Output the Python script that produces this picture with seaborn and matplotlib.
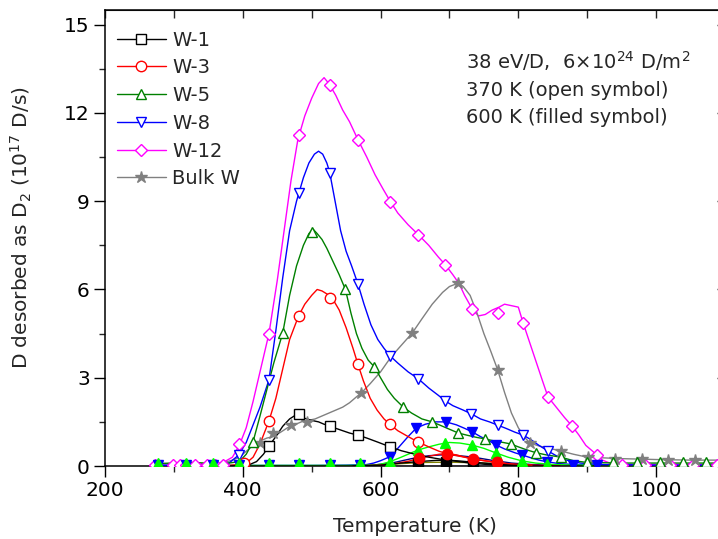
import matplotlib
matplotlib.use("Agg")
import matplotlib.pyplot as plt
import seaborn as sns
from matplotlib.lines import Line2D
from matplotlib.ticker import MultipleLocator

sns.set_style("ticks")
plt.rcParams["font.family"] = ["DejaVu Sans"]
plt.rcParams["mathtext.fontset"] = "dejavusans"

# ---- TDS spectra, 370 K exposure (open symbols) ----
w12_T = [268, 290, 310, 330, 350, 370, 385, 395, 405, 415, 425, 438, 450, 460, 470, 480, 490, 500,
         510, 518, 525, 535, 545, 555, 567, 580, 592, 604, 614, 625, 640, 655, 670, 684, 694, 705,
         714, 722, 733, 742, 752, 762, 772, 780, 790, 800, 807, 815, 825, 835, 843, 855, 867, 878,
         888, 898, 908, 914, 922, 935, 950, 980, 1020, 1060, 1100]
w12_y = [0.05, 0.08, 0.1, 0.07, 0.08, 0.1, 0.3, 0.7, 1.3, 2.2, 3.2, 4.5, 6.3, 8.0, 9.7, 11.1, 11.9, 12.5,
         13.0, 13.2, 13.0, 12.6, 12.1, 11.7, 11.1, 10.5, 9.9, 9.4, 9.0, 8.6, 8.2, 7.86, 7.5, 7.1, 6.84, 6.5,
         6.2, 5.8, 5.34, 5.1, 5.15, 5.3, 5.4, 5.5, 5.45, 5.4, 4.86, 4.3, 3.6, 2.9, 2.35, 2.0, 1.65, 1.36,
         1.05, 0.7, 0.5, 0.37, 0.2, 0.08, 0.05, 0.05, 0.05, 0.05, 0.05]
w12_mT = [272, 299, 309, 318, 330, 348, 360, 371, 394, 438, 481, 526, 567, 614, 655, 694, 733, 770,
          807, 843, 878, 914, 950, 984, 1020, 1053, 1088]
w12_my = [0.03, 0.03, 0.03, 0.03, 0.05, 0.03, 0.03, 0.05, 0.75, 4.5, 11.26, 12.96, 11.09, 8.98, 7.86,
          6.84, 5.34, 5.2, 4.86, 2.35, 1.36, 0.37, 0.03, 0.03, 0.03, 0.03, 0.03]

w8_T = [268, 300, 330, 360, 380, 394, 405, 415, 425, 438, 448, 458, 468, 478, 488, 496, 504, 510, 516,
        522, 526, 534, 542, 550, 558, 567, 576, 586, 596, 605, 614, 625, 640, 655, 670, 684, 694, 705,
        720, 732, 745, 758, 770, 782, 795, 807, 818, 830, 843, 855, 870, 890, 920, 1000, 1100]
w8_y = [0.02, 0.03, 0.02, 0.03, 0.1, 0.37, 0.8, 1.4, 2.0, 2.93, 4.6, 6.4, 8.0, 9.0, 9.8, 10.3, 10.6,
        10.7, 10.6, 10.3, 10.0, 9.0, 8.0, 7.3, 6.8, 6.2, 5.5, 4.8, 4.3, 4.0, 3.74, 3.5, 3.2, 2.96, 2.65,
        2.4, 2.21, 2.05, 1.9, 1.77, 1.6, 1.5, 1.39, 1.28, 1.15, 1.05, 0.9, 0.7, 0.51, 0.35, 0.2, 0.1,
        0.05, 0.03, 0.03]
w8_mT = [394, 438, 481, 526, 567, 614, 655, 694, 732, 770, 807, 843]
w8_my = [0.37, 2.93, 9.29, 9.97, 6.2, 3.74, 2.96, 2.21, 1.77, 1.39, 1.05, 0.51]

w5_T = [268, 300, 330, 360, 380, 395, 405, 415, 425, 435, 445, 458, 468, 478, 488, 496, 502, 508, 515,
        522, 530, 540, 549, 557, 565, 573, 582, 591, 600, 610, 620, 633, 645, 660, 675, 690, 700, 713,
        725, 740, 752, 765, 778, 789, 800, 812, 826, 840, 862, 880, 900, 950, 1000, 1100]
w5_y = [0.08, 0.1, 0.12, 0.08, 0.1, 0.15, 0.4, 0.83, 1.7, 2.6, 3.5, 4.52, 5.8, 6.8, 7.5, 7.9, 8.05,
        7.9, 7.7, 7.4, 7.0, 6.5, 6.0, 5.2, 4.5, 4.0, 3.6, 3.37, 3.0, 2.6, 2.3, 2.0, 1.8, 1.6, 1.5, 1.35,
        1.25, 1.12, 1.05, 0.97, 0.92, 0.85, 0.8, 0.75, 0.65, 0.55, 0.45, 0.38, 0.3, 0.18, 0.12, 0.1,
        0.1, 0.1]
w5_mT = [415, 458, 501, 549, 591, 633, 675, 713, 752, 789, 826, 862, 900, 938, 972, 1005, 1039, 1073]
w5_my = [0.83, 4.52, 7.96, 6.0, 3.37, 2.0, 1.5, 1.12, 0.92, 0.75, 0.45, 0.3, 0.14, 0.12, 0.12, 0.12,
         0.12, 0.12]

w3_T = [380, 395, 405, 415, 425, 438, 448, 458, 468, 481, 490, 500, 508, 515, 522, 530, 540, 550, 560,
        567, 575, 585, 595, 605, 613, 625, 640, 654, 670, 685, 700, 715, 730, 745, 760, 775, 790, 820]
w3_y = [0.02, 0.05, 0.1, 0.3, 0.75, 1.53, 2.3, 3.3, 4.3, 5.1, 5.5, 5.8, 6.0, 5.95, 5.85, 5.7, 5.3, 4.7,
        4.0, 3.47, 2.9, 2.3, 1.9, 1.6, 1.43, 1.2, 1.0, 0.82, 0.65, 0.5, 0.4, 0.33, 0.27, 0.2, 0.15, 0.1,
        0.06, 0.03]
w3_mT = [402, 438, 481, 526, 567, 613, 654]
w3_my = [0.1, 1.53, 5.1, 5.7, 3.47, 1.43, 0.82]

w1_T = [380, 400, 410, 420, 430, 438, 448, 458, 468, 476, 481, 490, 500, 510, 518, 526, 535, 545, 555,
        567, 580, 595, 614, 630, 650, 670, 690, 710, 730, 750, 770, 800]
w1_y = [0.0, 0.02, 0.05, 0.15, 0.4, 0.68, 1.0, 1.35, 1.6, 1.72, 1.77, 1.62, 1.55, 1.5, 1.42, 1.37,
        1.28, 1.2, 1.12, 1.05, 0.95, 0.82, 0.65, 0.52, 0.4, 0.3, 0.22, 0.16, 0.1, 0.06, 0.03, 0.02]
w1_mT = [438, 481, 526, 567, 614]
w1_my = [0.68, 1.77, 1.37, 1.05, 0.65]

bulk_T = [370, 385, 395, 405, 415, 425, 435, 445, 455, 465, 475, 485, 495, 505, 515, 525, 535, 545,
          555, 565, 572, 585, 600, 615, 630, 646, 660, 675, 690, 700, 713, 720, 730, 740, 750, 760,
          770, 780, 790, 800, 810, 817, 830, 845, 862, 880, 900, 950, 1000, 1050, 1100]
bulk_y = [0.1, 0.2, 0.3, 0.5, 0.7, 0.85, 0.95, 1.0, 1.15, 1.3, 1.4, 1.5, 1.55, 1.6, 1.7, 1.8, 1.9,
          2.0, 2.15, 2.35, 2.48, 2.8, 3.2, 3.7, 4.1, 4.52, 5.0, 5.5, 5.9, 6.1, 6.22, 6.1, 5.8, 5.2, 4.5,
          3.9, 3.27, 2.5, 1.8, 1.3, 0.95, 0.78, 0.68, 0.6, 0.51, 0.4, 0.3, 0.25, 0.22, 0.2, 0.2]
bulk_mT = [425, 444, 470, 493, 572, 646, 713, 770, 817, 862, 901, 940, 979, 1017, 1056]
bulk_my = [0.78, 1.12, 1.4, 1.5, 2.48, 4.52, 6.22, 3.27, 0.78, 0.51, 0.3, 0.25, 0.25, 0.22, 0.22]

# ---- 600 K exposure (filled symbols) ----
f8_T = [268, 300, 350, 400, 450, 500, 550, 580, 590, 600, 613, 625, 640, 652, 665, 680, 695, 710,
        722, 733, 745, 758, 768, 780, 795, 806, 818, 830, 842, 860, 880, 920, 1000, 1100]
f8_y = [0.02, 0.02, 0.02, 0.02, 0.02, 0.02, 0.03, 0.05, 0.1, 0.18, 0.31, 0.6, 1.0, 1.29, 1.42, 1.5,
        1.5, 1.4, 1.28, 1.16, 1.0, 0.85, 0.71, 0.58, 0.45, 0.37, 0.28, 0.2, 0.14, 0.08, 0.05, 0.03,
        0.03, 0.03]
f8_mT = [277, 318, 357, 394, 438, 481, 526, 570, 613, 652, 695, 733, 768, 806, 842, 879, 914]
f8_my = [0.02, 0.02, 0.02, 0.02, 0.02, 0.02, 0.02, 0.02, 0.31, 1.29, 1.5, 1.16, 0.71, 0.37, 0.14,
         0.05, 0.03]

f5_T = [268, 350, 450, 550, 590, 600, 613, 630, 654, 670, 685, 700, 715, 733, 750, 768, 785, 806,
        825, 850, 880, 950, 1100]
f5_y = [0.02, 0.02, 0.02, 0.02, 0.03, 0.06, 0.14, 0.3, 0.54, 0.65, 0.74, 0.8, 0.78, 0.71, 0.6, 0.44,
        0.3, 0.17, 0.1, 0.05, 0.03, 0.02, 0.02]
f5_mT = [277, 318, 357, 394, 438, 481, 526, 570, 613, 654, 694, 733, 768, 806, 842]
f5_my = [0.09, 0.09, 0.09, 0.09, 0.09, 0.09, 0.09, 0.09, 0.14, 0.54, 0.78, 0.71, 0.44, 0.17, 0.07]

f3_T = [560, 600, 620, 640, 655, 670, 685, 696, 710, 722, 734, 750, 769, 785, 800, 830, 860]
f3_y = [0.0, 0.03, 0.08, 0.16, 0.25, 0.33, 0.4, 0.42, 0.38, 0.3, 0.24, 0.18, 0.12, 0.08, 0.05, 0.02,
        0.01]
f3_mT = [656, 696, 734, 769]
f3_my = [0.27, 0.42, 0.24, 0.12]

f1_T = [560, 600, 630, 655, 680, 696, 715, 734, 760, 790, 820]
f1_y = [0.0, 0.03, 0.1, 0.15, 0.19, 0.2, 0.17, 0.13, 0.08, 0.04, 0.02]
f1_mT = [655, 695, 734]
f1_my = [0.1, 0.13, 0.08]

f12_T = [560, 590, 620, 645, 670, 690, 710, 735, 760, 790, 820, 860]
f12_y = [0.0, 0.03, 0.12, 0.25, 0.35, 0.38, 0.36, 0.3, 0.2, 0.1, 0.05, 0.02]

fb_T = [600, 630, 660, 700, 740, 780, 820]
fb_y = [0.03, 0.08, 0.12, 0.13, 0.11, 0.07, 0.03]

base_T = [268, 1100]
base_y = [0.0, 0.0]

labels = ["W-1", "W-3", "W-5", "W-8", "W-12", "Bulk W"]

fig = plt.figure(figsize=(7.18, 5.39), dpi=100)
ax = fig.add_axes([105 / 718, 1 - 466 / 539, 620 / 718, 456 / 539])

lw = 1.0
ms = 7.5
mew = 1.0


def curve(T, y, color, zorder):
    sns.lineplot(x=T, y=y, color=color, lw=lw, ax=ax, estimator=None, sort=False,
                 zorder=zorder, legend=False)


def marks(T, y, color, marker, filled, zorder, size=ms):
    ax.plot(T, y, ls="none", marker=marker, ms=size, mew=mew, mec=color,
            mfc=color if filled else "white", zorder=zorder)


# filled-symbol (600 K) spectra
curve(base_T, base_y, "#8000c0", 2)
curve(fb_T, fb_y, "#808000", 2)
curve(f12_T, f12_y, "#000080", 2)
curve(f8_T, f8_y, "#0000ff", 2)
curve(f5_T, f5_y, "#00ff00", 2)
curve(f3_T, f3_y, "#ff0000", 2)
curve(f1_T, f1_y, "#000000", 2)

# open-symbol (370 K) spectra
curve(w12_T, w12_y, "#ff00ff", 3)
curve(bulk_T, bulk_y, "#808080", 3)
curve(w8_T, w8_y, "#0000ff", 3)
curve(w5_T, w5_y, "#008000", 3)
curve(w3_T, w3_y, "#ff0000", 3)
curve(w1_T, w1_y, "#000000", 3)

marks(w12_mT, w12_my, "#ff00ff", "D", False, 4, 6.5)
marks(bulk_mT, bulk_my, "#808080", "*", True, 4, 9)
marks(w8_mT, w8_my, "#0000ff", "v", False, 4)
marks(w5_mT, w5_my, "#008000", "^", False, 4)
marks(w3_mT, w3_my, "#ff0000", "o", False, 4)
marks(w1_mT, w1_my, "#000000", "s", False, 4, 7)

marks(f8_mT, f8_my, "#0000ff", "v", True, 5)
marks(f5_mT, f5_my, "#00ff00", "^", True, 5)
marks(f1_mT, f1_my, "#000000", "s", True, 5, 7)
marks(f3_mT, f3_my, "#ff0000", "o", True, 5)

ax.set_xlim(200, 1100)
ax.set_ylim(0, 15.5)
ax.xaxis.set_major_locator(MultipleLocator(200))
ax.xaxis.set_minor_locator(MultipleLocator(100))
ax.yaxis.set_major_locator(MultipleLocator(3))
ax.yaxis.set_minor_locator(MultipleLocator(1.5))
ax.tick_params(which="major", direction="out", length=8, width=1, labelsize=14.5, pad=3,
               top=False, right=False, colors="black")
ax.tick_params(which="minor", direction="out", length=4.5, width=1, top=False, right=False)
for s in ax.spines.values():
    s.set_linewidth(1.1)
    s.set_color("black")

top = ax.secondary_xaxis("top")
top.xaxis.set_major_locator(MultipleLocator(100))
top.tick_params(direction="in", length=6, width=1, labeltop=False)
right = ax.secondary_yaxis("right")
right.yaxis.set_major_locator(MultipleLocator(3))
right.tick_params(direction="in", length=6, width=1, labelright=False)

ax.set_xlabel("Temperature (K)", fontsize=14.5, labelpad=12)
ax.set_ylabel("D desorbed as D$_2$ (10$^{17}$ D/s)", fontsize=14.5)
ax.yaxis.set_label_coords(-(105 - 34) / 620, 0.522)

handles = [
    Line2D([], [], color="#000000", lw=lw, marker="s", ms=7, mfc="white", mec="#000000", mew=mew),
    Line2D([], [], color="#ff0000", lw=lw, marker="o", ms=ms, mfc="white", mec="#ff0000", mew=mew),
    Line2D([], [], color="#008000", lw=lw, marker="^", ms=ms, mfc="white", mec="#008000", mew=mew),
    Line2D([], [], color="#0000ff", lw=lw, marker="v", ms=ms, mfc="white", mec="#0000ff", mew=mew),
    Line2D([], [], color="#ff00ff", lw=lw, marker="D", ms=6.5, mfc="white", mec="#ff00ff", mew=mew),
    Line2D([], [], color="#808080", lw=lw, marker="*", ms=9, mfc="#808080", mec="#808080", mew=mew),
]
ax.legend(handles, labels, loc="upper left", bbox_to_anchor=(12 / 620, 0.955), frameon=False,
          fontsize=14, numpoints=1, handlelength=2.5, handletextpad=0.35, labelspacing=0.45,
          borderpad=0, borderaxespad=0)

tx = (466 - 105) / 620
ax.text(tx, 1 - (69 - 10) / 456, "38 eV/D,  6$\\times$10$^{24}$ D/m$^2$", transform=ax.transAxes,
        fontsize=14, va="baseline", ha="left")
ax.text(tx, 1 - (96.5 - 10) / 456, "370 K (open symbol)", transform=ax.transAxes,
        fontsize=14, va="baseline", ha="left")
ax.text(tx, 1 - (123 - 10) / 456, "600 K (filled symbol)", transform=ax.transAxes,
        fontsize=14, va="baseline", ha="left")

fig.savefig("out.png", dpi=100)
